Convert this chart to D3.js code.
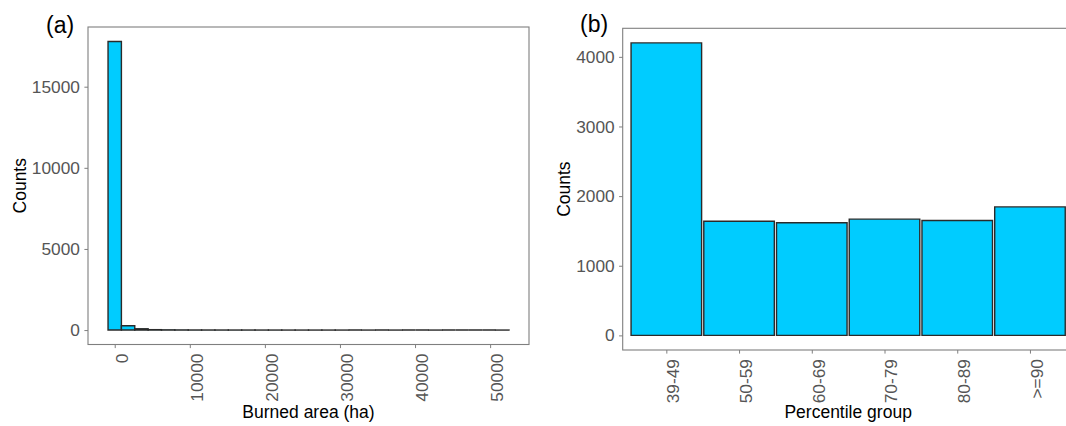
<!DOCTYPE html>
<html>
<head>
<meta charset="utf-8">
<script src="https://cdn.jsdelivr.net/npm/d3@7"></script>
<style>
  html, body { margin: 0; padding: 0; background: #ffffff; }
  svg { display: block; font-family: "Liberation Sans", Arial, sans-serif; }
</style>
</head>
<body>
<svg id="chart" width="1066" height="426"></svg>
<script>
// ---------- Data ----------
// Panel (a): histogram of burned area (ha), 30 bins
const binWidthA = 1780;
const binCentreStartA = 0;
const histCountsA = [17790, 270, 80, 25, 14, 9, 6, 5, 4, 3, 3, 2, 2, 1, 1, 1, 1, 1, 0, 1, 0, 1, 0, 0, 1, 0, 0, 0, 0, 1];
const xTicksA = [0, 10000, 20000, 30000, 40000, 50000];
const yTicksA = [0, 5000, 10000, 15000];

// Panel (b): counts per percentile group
const groupsB = ["39-49", "50-59", "60-69", "70-79", "80-89", ">=90"];
const countsB = [4200, 1640, 1618, 1669, 1649, 1845];
const yTicksB = [0, 1000, 2000, 3000, 4000];

// ---------- Styles ----------
const FILL = "#00CCFF";
const BAR_STROKE = "#2a2a2a";
const BORDER = "#7f7f7f";
const TICK_TEXT = "#555555";
const TICK_FS = 17.3;
const TITLE_FS = 17.5;
const TICK_LEN = 3.6;

const svg = d3.select("#chart");

function styleAxis(g) {
  g.select(".domain").remove();
  g.selectAll(".tick line").attr("stroke", BORDER).attr("stroke-width", 1);
  g.selectAll(".tick text").attr("fill", TICK_TEXT).style("font-size", TICK_FS + "px")
    .style("font-family", '"Liberation Sans", Arial, sans-serif');
}
function rotateXLabels(g) {
  g.selectAll(".tick text")
    .attr("transform", "rotate(-90)")
    .attr("text-anchor", "end")
    .attr("x", -(TICK_LEN + 5.5))
    .attr("y", 0)
    .attr("dy", "0.72em");
}
function barPath(x0, x1, y0, y1) {
  const p = d3.path();
  p.moveTo(x0, y0); p.lineTo(x0, y1); p.lineTo(x1, y1); p.lineTo(x1, y0); p.closePath();
  return p.toString();
}

// ---------- Panel (a) ----------
{
  const L = 88, R = 529, T = 27, B = 344.5;
  const bins = histCountsA.map((c, i) => ({
    x0: binCentreStartA - binWidthA / 2 + i * binWidthA,
    x1: binCentreStartA + binWidthA / 2 + i * binWidthA,
    c
  }));
  const xmin = bins[0].x0, xmax = bins[bins.length - 1].x1;
  const ymax = d3.max(histCountsA);
  const xpad = (xmax - xmin) * 0.05, ypad = ymax * 0.05;
  const x = d3.scaleLinear().domain([xmin - xpad, xmax + xpad]).range([L, R]);
  const y = d3.scaleLinear().domain([-ypad, ymax + ypad]).range([B, T]);

  const g = svg.append("g");
  g.selectAll("path.bar").data(bins).enter().append("path")
    .attr("class", "bar")
    .attr("d", d => barPath(x(d.x0), x(d.x1), y(0), y(d.c)))
    .attr("fill", FILL).attr("stroke", BAR_STROKE).attr("stroke-width", 1.4);

  g.append("rect").attr("x", L).attr("y", T).attr("width", R - L).attr("height", B - T)
    .attr("fill", "none").attr("stroke", BORDER).attr("stroke-width", 1.1);

  const ya = g.append("g").attr("transform", `translate(${L},0)`)
    .call(d3.axisLeft(y).tickValues(yTicksA).tickSize(TICK_LEN).tickPadding(4.5).tickFormat(d3.format("d")));
  styleAxis(ya);
  const xa = g.append("g").attr("transform", `translate(0,${B})`)
    .call(d3.axisBottom(x).tickValues(xTicksA).tickSize(TICK_LEN).tickFormat(d3.format("d")));
  styleAxis(xa); rotateXLabels(xa);

  g.append("text").attr("x", (L + R) / 2).attr("y", 418).attr("text-anchor", "middle")
    .style("font-size", TITLE_FS + "px").attr("fill", "#000").text("Burned area (ha)");
  g.append("text").attr("transform", `translate(26,${(T + B) / 2}) rotate(-90)`).attr("text-anchor", "middle")
    .style("font-size", TITLE_FS + "px").attr("fill", "#000").text("Counts");
  g.append("text").attr("x", 46).attr("y", 33).style("font-size", "23px").attr("fill", "#000").text("(a)");
}

// ---------- Panel (b) ----------
{
  const L = 622.7, R = 1073.6, T = 28.3, B = 350;
  const ymax = d3.max(countsB);
  const ypad = ymax * 0.05;
  const x = d3.scalePoint().domain(groupsB).range([L, R]).padding(0.6);
  const y = d3.scaleLinear().domain([-ypad, ymax + ypad]).range([B, T]);
  const bw = x.step() * 0.97;

  const g = svg.append("g");
  g.selectAll("path.bar").data(groupsB).enter().append("path")
    .attr("class", "bar")
    .attr("d", (d, i) => barPath(x(d) - bw / 2, x(d) + bw / 2, y(0), y(countsB[i])))
    .attr("fill", FILL).attr("stroke", BAR_STROKE).attr("stroke-width", 1.4);

  g.append("rect").attr("x", L).attr("y", T).attr("width", R - L).attr("height", B - T)
    .attr("fill", "none").attr("stroke", BORDER).attr("stroke-width", 1.1);

  const ya = g.append("g").attr("transform", `translate(${L},0)`)
    .call(d3.axisLeft(y).tickValues(yTicksB).tickSize(TICK_LEN).tickPadding(4.5).tickFormat(d3.format("d")));
  styleAxis(ya);
  const xa = g.append("g").attr("transform", `translate(0,${B})`)
    .call(d3.axisBottom(x).tickSize(TICK_LEN));
  styleAxis(xa); rotateXLabels(xa);

  g.append("text").attr("x", (L + R) / 2).attr("y", 418).attr("text-anchor", "middle")
    .style("font-size", TITLE_FS + "px").attr("fill", "#000").text("Percentile group");
  g.append("text").attr("transform", `translate(570,${(T + B) / 2}) rotate(-90)`).attr("text-anchor", "middle")
    .style("font-size", TITLE_FS + "px").attr("fill", "#000").text("Counts");
  g.append("text").attr("x", 580).attr("y", 32).style("font-size", "23px").attr("fill", "#000").text("(b)");
}
</script>
</body>
</html>
